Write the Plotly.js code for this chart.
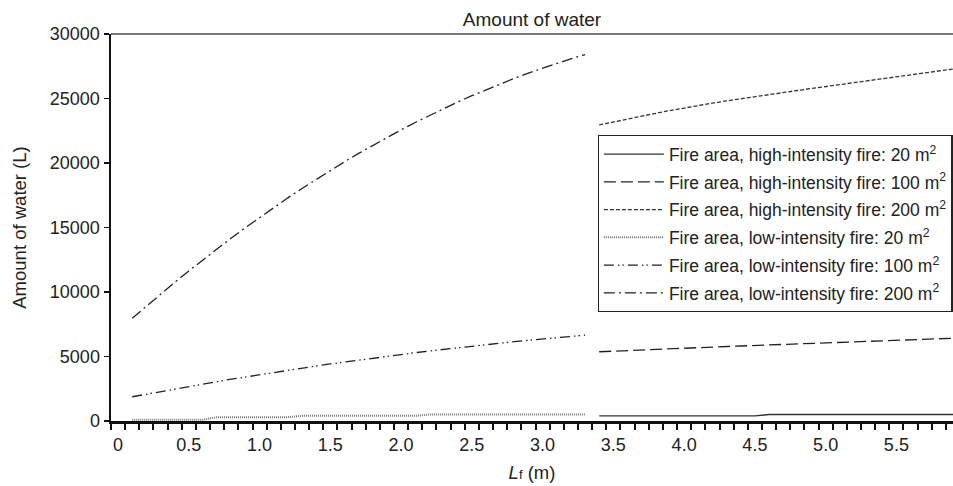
<!DOCTYPE html>
<html>
<head>
<meta charset="utf-8">
<script src="https://cdn.plot.ly/plotly-3.0.1.min.js"></script>
<style>html,body{margin:0;padding:0;background:#fff;}#chart{width:953px;height:486px;}</style>
</head>
<body>
<div id="chart"></div>
<script>
// Flame length Lf (m) for each segment
const lfLow = [0.1,0.2,0.3,0.4,0.5,0.6,0.7,0.8,0.9,1.0,1.1,1.2,1.3,1.4,1.5,1.6,1.7,1.8,1.9,2.0,2.1,2.2,2.3,2.4,2.5,2.6,2.7,2.8,2.9,3.0,3.1,3.2,3.3];
const lfHigh = [3.4,3.5,3.6,3.7,3.8,3.9,4.0,4.1,4.2,4.3,4.4,4.5,4.6,4.7,4.8,4.9,5.0,5.1,5.2,5.3,5.4,5.5,5.6,5.7,5.8,5.9];

// Amount of water (L)
const high20 = [400,400,400,400,400,400,400,400,400,400,400,400,500,500,500,500,500,500,500,500,500,500,500,500,500,500];
const high100 = [5370,5420,5465,5510,5555,5600,5645,5690,5730,5775,5815,5855,5895,5935,5975,6015,6055,6095,6135,6175,6215,6255,6295,6335,6375,6415];
const high200 = [22950,23190,23420,23640,23855,24065,24270,24460,24640,24815,24985,25150,25310,25465,25620,25775,25930,26085,26235,26385,26535,26685,26835,26985,27135,27285];
const low20 = [100,100,100,100,100,100,300,300,300,300,300,300,400,400,400,400,400,400,400,400,400,500,500,500,500,500,500,500,500,500,500,500,500];
const low100 = [1880,2085,2286,2484,2678,2869,3056,3239,3419,3595,3768,3937,4102,4264,4422,4577,4728,4875,5019,5159,5296,5429,5558,5684,5806,5925,6040,6151,6259,6363,6464,6561,6654];
const low200 = [7960,8909,9838,10747,11636,12505,13354,14183,14992,15781,16550,17299,18028,18737,19426,20095,20744,21373,21982,22571,23140,23689,24218,24727,25216,25685,26134,26563,26972,27361,27730,28079,28408];

const seriesNames = [
  'Fire area, high-intensity fire: 20 m<sup>2</sup>',
  'Fire area, high-intensity fire: 100 m<sup>2</sup>',
  'Fire area, high-intensity fire: 200 m<sup>2</sup>',
  'Fire area, low-intensity fire: 20 m<sup>2</sup>',
  'Fire area, low-intensity fire: 100 m<sup>2</sup>',
  'Fire area, low-intensity fire: 200 m<sup>2</sup>'
];
const xTickVals = [0,0.5,1.0,1.5,2.0,2.5,3.0,3.5,4.0,4.5,5.0,5.5];
const xTickText = ['0','0.5','1.0','1.5','2.0','2.5','3.0','3.5','4.0','4.5','5.0','5.5'];
const yTickVals = [0,5000,10000,15000,20000,25000,30000];

const FONT = '"Liberation Sans", Arial, Helvetica, sans-serif';
const styles = [
  {color:'#333', width:1.4, dash:'solid'},
  {color:'#222', width:1.3, dash:'12px,5px'},
  {color:'#333', width:1.3, dash:'4px,2px'},
  {color:'#777', width:2, dash:'1px,1px'},
  {color:'#222', width:1.3, dash:'10px,4px,1.5px,3px,1.5px,4px'},
  {color:'#222', width:1.3, dash:'11px,4px,2px,4px'}
];
const xs = [lfHigh, lfHigh, lfHigh, lfLow, lfLow, lfLow];
const ys = [high20, high100, high200, low20, low100, low200];

const traces = ys.map((y, i) => ({
  x: xs[i], y: y, type: 'scatter', mode: 'lines',
  name: seriesNames[i], legendgroup: 'g' + i,
  line: styles[i], hoverinfo: 'skip'
}));

const layout = {
  width: 953, height: 486,
  margin: {l: 111, r: 0, t: 34, b: 65},
  paper_bgcolor: '#fff', plot_bgcolor: '#fff',
  font: {family: FONT, size: 18, color: '#222'},
  title: {text: 'Amount of water', x: 0.5, xref: 'paper', xanchor: 'center', y: 0.96, yanchor: 'middle', font: {family: FONT, size: 19, color: '#222'}},
  showlegend: true,
  legend: {
    x: 0.578, y: 0.739, xanchor: 'left', yanchor: 'top',
    bgcolor: '#fff', bordercolor: '#222', borderwidth: 1.2,
    font: {family: FONT, size: 17.5, color: '#222'},
    tracegroupgap: 2, itemwidth: 60
  },
  xaxis: {
    range: [-0.05, 5.9], showgrid: false, zeroline: false,
    showline: true, linecolor: '#111', linewidth: 2.5,
    tickmode: 'array', tickvals: xTickVals, ticktext: xTickText,
    ticks: '', ticklabelstandoff: 6,
    tickfont: {family: FONT, size: 18, color: '#222'},
    minor: {tick0: -0.05, dtick: 0.1, ticks: 'outside', ticklen: 6, tickwidth: 2, tickcolor: '#111', showgrid: false},
    title: {text: '<i>L</i><span style="font-size:13px">f</span> (m)', standoff: 12, font: {family: FONT, size: 18.5, color: '#222'}},
    automargin: false, fixedrange: true
  },
  yaxis: {
    range: [0, 30000], showgrid: false, zeroline: false,
    showline: true, linecolor: '#111', linewidth: 2.5,
    tickmode: 'array', tickvals: yTickVals, tickformat: 'd',
    ticks: 'outside', ticklen: 5, tickwidth: 1.5, tickcolor: '#111',
    tickfont: {family: FONT, size: 18, color: '#222'},
    title: {text: 'Amount of water (L)', standoff: 19, font: {family: FONT, size: 18.5, color: '#222'}},
    automargin: false, fixedrange: true
  },
  shapes: [
    {type: 'line', xref: 'paper', yref: 'paper', x0: 0, x1: 1, y0: 1, y1: 1, line: {color: '#777', width: 2}}
  ]
};

Plotly.newPlot('chart', traces, layout, {staticPlot: true, displayModeBar: false});
</script>
</body>
</html>
